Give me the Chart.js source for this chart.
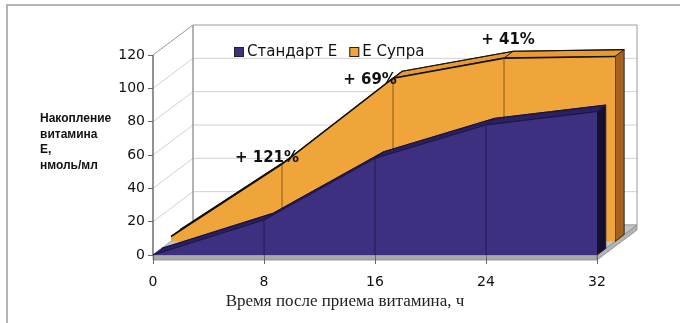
<!DOCTYPE html>
<html lang="ru">
<head>
<meta charset="utf-8">
<title>Накопление витамина Е</title>
<script src="https://cdn.jsdelivr.net/npm/chart.js@4.4.1/dist/chart.umd.min.js"></script>
<style>
  html, body { margin: 0; padding: 0; background: #fff; }
  #wrap { position: relative; width: 680px; height: 323px; }
</style>
</head>
<body>
<div id="wrap"><canvas id="vitChart" width="680" height="323"></canvas></div>
<script>
// hours after intake and vitamin E level, nmol/ml
const hours = [0, 8, 16, 24, 32];
const standardE = [0, 21, 58, 78, 86];
const eSupra = [3, 46.4, 98, 110, 111];
const gainHours = [8, 16, 24];
const seriesNames = ['Стандарт Е', 'Е Супра'];
const yTitleLines = ['Накопление', 'витамина', 'Е,', 'нмоль/мл'];
const xTitle = 'Время после приема витамина, ч';
const X_MAX = 32, X_STEP = 8, Y_MAX = 120, Y_STEP = 20;

const COLORS = {
  std: '#3e3080', stdTop: '#2a2062', stdSide: '#141030', stdEdge: '#1a1442',
  supra: '#f0a53a', supraTop: '#e99a30', supraSide: '#a4621e', supraEdge: '#111111'
};

// front plane of the 3d box and the offset of the back wall, px
const FRONT = { left: 153, bottom: 255, width: 444, height: 200 };
const DEPTH = { dx: 40, dy: 30 };
// depth slots of the two series (0 = front plane, 1 = back wall)
const SLOT_STD = [0, 0.22];
const SLOT_SUPRA = [0.45, 0.68];

const xPx = FRONT.width / X_MAX;
const yPx = FRONT.height / Y_MAX;
const boxRight = FRONT.left + FRONT.width + DEPTH.dx;
const boxTop = FRONT.bottom - FRONT.height - DEPTH.dy;
const xFrontMax = (boxRight - FRONT.left) / xPx;
const yFrontMax = (FRONT.bottom - boxTop) / yPx;
// the back series sits on scales moved up and right by its depth
const shiftX = SLOT_SUPRA[0] * DEPTH.dx / xPx;
const shiftY = SLOT_SUPRA[0] * DEPTH.dy / yPx;

function toPoints(values) {
  return hours.map((h, i) => ({ x: h, y: values[i] }));
}

function poly(ctx, pts, fill, stroke, lw) {
  ctx.beginPath();
  pts.forEach((p, i) => i ? ctx.lineTo(p.x, p.y) : ctx.moveTo(p.x, p.y));
  ctx.closePath();
  if (fill) { ctx.fillStyle = fill; ctx.fill(); }
  if (stroke) { ctx.strokeStyle = stroke; ctx.lineWidth = lw || 1; ctx.stroke(); }
}

function line(ctx, a, b, color, lw) {
  ctx.beginPath();
  ctx.moveTo(a.x, a.y);
  ctx.lineTo(b.x, b.y);
  ctx.strokeStyle = color;
  ctx.lineWidth = lw || 1;
  ctx.stroke();
}

// extruded top and right end of an area series
function drawSlab(ctx, meta, t, topColor, sideColor, edgeColor) {
  const dx = t * DEPTH.dx, dy = -t * DEPTH.dy;
  const pts = meta.data.map(p => ({ x: p.x, y: p.y }));
  const base = meta.vScale.getPixelForValue(0);
  const sh = p => ({ x: p.x + dx, y: p.y + dy });
  for (let i = 0; i < pts.length - 1; i++) {
    poly(ctx, [pts[i], pts[i + 1], sh(pts[i + 1]), sh(pts[i])], topColor, edgeColor, 0.8);
  }
  const last = pts[pts.length - 1];
  const lastBase = { x: last.x, y: base };
  poly(ctx, [last, lastBase, sh(lastBase), sh(last)], sideColor, edgeColor, 0.8);
  ctx.beginPath();
  pts.map(sh).forEach((p, i) => i ? ctx.lineTo(p.x, p.y) : ctx.moveTo(p.x, p.y));
  ctx.strokeStyle = edgeColor;
  ctx.lineWidth = 1.2;
  ctx.stroke();
}

function drawFaceLines(ctx, meta, color) {
  const base = meta.vScale.getPixelForValue(0);
  for (let i = 1; i < meta.data.length - 1; i++) {
    const p = meta.data[i];
    line(ctx, { x: p.x, y: base }, { x: p.x, y: p.y }, color, 0.8);
  }
}

const box3d = {
  id: 'box3d',
  beforeDraw(chart) {
    const ctx = chart.ctx;
    const xs = chart.scales.x, ys = chart.scales.y;
    const P = (xv, yv, z) => ({
      x: xs.getPixelForValue(xv) + z * DEPTH.dx,
      y: ys.getPixelForValue(yv) - z * DEPTH.dy
    });
    ctx.save();
    ctx.fillStyle = '#fff';
    ctx.fillRect(0, 0, chart.width, chart.height);
    // picture frame
    ctx.strokeStyle = '#b4b4b4';
    ctx.lineWidth = 2;
    ctx.beginPath();
    ctx.moveTo(7, chart.height);
    ctx.lineTo(7, 5);
    ctx.lineTo(chart.width, 5);
    ctx.stroke();

    // walls
    const side = [P(0, 0, 0), P(0, Y_MAX, 0), P(0, Y_MAX, 1), P(0, 0, 1)];
    const back = [P(0, 0, 1), P(0, Y_MAX, 1), P(X_MAX, Y_MAX, 1), P(X_MAX, 0, 1)];
    poly(ctx, side, '#fff');
    poly(ctx, back, '#fff');
    for (let v = Y_STEP; v < Y_MAX; v += Y_STEP) {
      line(ctx, P(0, v, 0), P(0, v, 1), '#d2d2d2', 1);
      line(ctx, P(0, v, 1), P(X_MAX, v, 1), '#d2d2d2', 1);
    }
    poly(ctx, side, null, '#9a9a9a', 1);
    poly(ctx, back, null, '#9a9a9a', 1);

    // floor slab
    const down = (p, d) => ({ x: p.x, y: p.y + d });
    const f0 = P(0, 0, 0), f1 = P(X_MAX, 0, 0), f2 = P(X_MAX, 0, 1), f3 = P(0, 0, 1);
    poly(ctx, [f0, f1, f2, f3], '#c6c6c6', '#9a9a9a', 0.8);
    poly(ctx, [f0, f1, down(f1, 5), down(f0, 5)], '#a9a9a9', '#8a8a8a', 0.8);
    poly(ctx, [f1, f2, down(f2, 5), down(f1, 5)], '#b3b3b3', '#8a8a8a', 0.8);

    // value axis line
    line(ctx, P(0, 0, 0), P(0, Y_MAX, 0), '#555', 1);
    ctx.restore();
  },
  beforeDatasetsDraw(chart) {
    const ctx = chart.ctx;
    ctx.save();
    drawSlab(ctx, chart.getDatasetMeta(1), SLOT_SUPRA[1] - SLOT_SUPRA[0],
      COLORS.supraTop, COLORS.supraSide, COLORS.supraEdge);
    ctx.restore();
  },
  afterDatasetDraw(chart, args) {
    if (args.index !== 1) return;
    const ctx = chart.ctx;
    ctx.save();
    drawFaceLines(ctx, args.meta, '#6a4410');
    drawSlab(ctx, chart.getDatasetMeta(0), SLOT_STD[1] - SLOT_STD[0],
      COLORS.stdTop, COLORS.stdSide, COLORS.stdEdge);
    ctx.restore();
  },
  afterDatasetsDraw(chart) {
    const ctx = chart.ctx;
    ctx.save();
    drawFaceLines(ctx, chart.getDatasetMeta(0), '#1a1442');

    // gain of E Supra over standard E
    const supraMeta = chart.getDatasetMeta(1);
    const labelShift = [[-15, -6], [-23, 2], [4, -18]];
    ctx.font = 'bold 15px "DejaVu Sans", sans-serif';
    ctx.fillStyle = '#111';
    ctx.textAlign = 'center';
    ctx.textBaseline = 'middle';
    gainHours.forEach((h, k) => {
      const i = hours.indexOf(h);
      const pct = Math.round((eSupra[i] / standardE[i] - 1) * 100);
      const p = supraMeta.data[i];
      ctx.fillText('+ ' + pct + '%', p.x + labelShift[k][0], p.y + labelShift[k][1]);
    });

    // legend
    ctx.font = '15px "DejaVu Sans", sans-serif';
    ctx.textAlign = 'left';
    let lx = 234;
    chart.data.datasets.forEach(ds => {
      ctx.fillStyle = ds.backgroundColor;
      ctx.fillRect(lx, 47, 10, 10);
      ctx.strokeStyle = '#222';
      ctx.lineWidth = 1;
      ctx.strokeRect(lx + 0.5, 47.5, 9, 9);
      ctx.fillStyle = '#111';
      ctx.fillText(ds.label, lx + 13, 52);
      lx += 13 + ctx.measureText(ds.label).width + 12;
    });

    // axis titles
    ctx.font = 'bold 12px "Liberation Sans", Arial, sans-serif';
    ctx.textBaseline = 'alphabetic';
    yTitleLines.forEach((t, i) => ctx.fillText(t, 40, 122 + i * 15.7));
    ctx.font = '17px "Liberation Serif", "Times New Roman", serif';
    ctx.textAlign = 'center';
    ctx.fillStyle = '#222';
    ctx.fillText(xTitle, 345, 306);
    ctx.restore();
  }
};

const tickFont = { family: '"DejaVu Sans", sans-serif', size: 14 };

new Chart(document.getElementById('vitChart').getContext('2d'), {
  type: 'line',
  data: {
    datasets: [
      {
        label: seriesNames[0],
        data: toPoints(standardE),
        xAxisID: 'x', yAxisID: 'y',
        backgroundColor: COLORS.std,
        borderColor: COLORS.stdEdge,
        borderWidth: 1,
        fill: 'origin',
        pointRadius: 0,
        tension: 0
      },
      {
        label: seriesNames[1],
        data: toPoints(eSupra),
        xAxisID: 'x2', yAxisID: 'y2',
        backgroundColor: COLORS.supra,
        borderColor: COLORS.supraEdge,
        borderWidth: 1.6,
        fill: 'origin',
        pointRadius: 0,
        tension: 0
      }
    ]
  },
  options: {
    responsive: false,
    animation: false,
    devicePixelRatio: 1,
    layout: { padding: { left: 108, right: 680 - boxRight, top: boxTop, bottom: 0 } },
    plugins: { legend: { display: false }, tooltip: { enabled: false } },
    scales: {
      x: {
        type: 'linear', position: 'bottom',
        min: 0, max: xFrontMax,
        ticks: { stepSize: X_STEP, includeBounds: false, padding: 10, color: '#111', font: tickFont, maxRotation: 0 },
        grid: { drawOnChartArea: false, drawTicks: true, tickLength: 9, color: '#666' },
        border: { display: false },
        afterFit(scale) { scale.height = 68; }
      },
      y: {
        type: 'linear', position: 'left',
        min: 0, max: yFrontMax,
        ticks: { stepSize: Y_STEP, includeBounds: false, padding: 3, color: '#111', font: tickFont },
        grid: { drawOnChartArea: false, drawTicks: true, tickLength: 5, color: '#666' },
        border: { display: false },
        afterFit(scale) { scale.width = 45; }
      },
      x2: { type: 'linear', axis: 'x', position: 'bottom', display: false, min: -shiftX, max: xFrontMax - shiftX },
      y2: { type: 'linear', axis: 'y', position: 'left', display: false, min: -shiftY, max: yFrontMax - shiftY }
    }
  },
  plugins: [box3d]
});
</script>
</body>
</html>
